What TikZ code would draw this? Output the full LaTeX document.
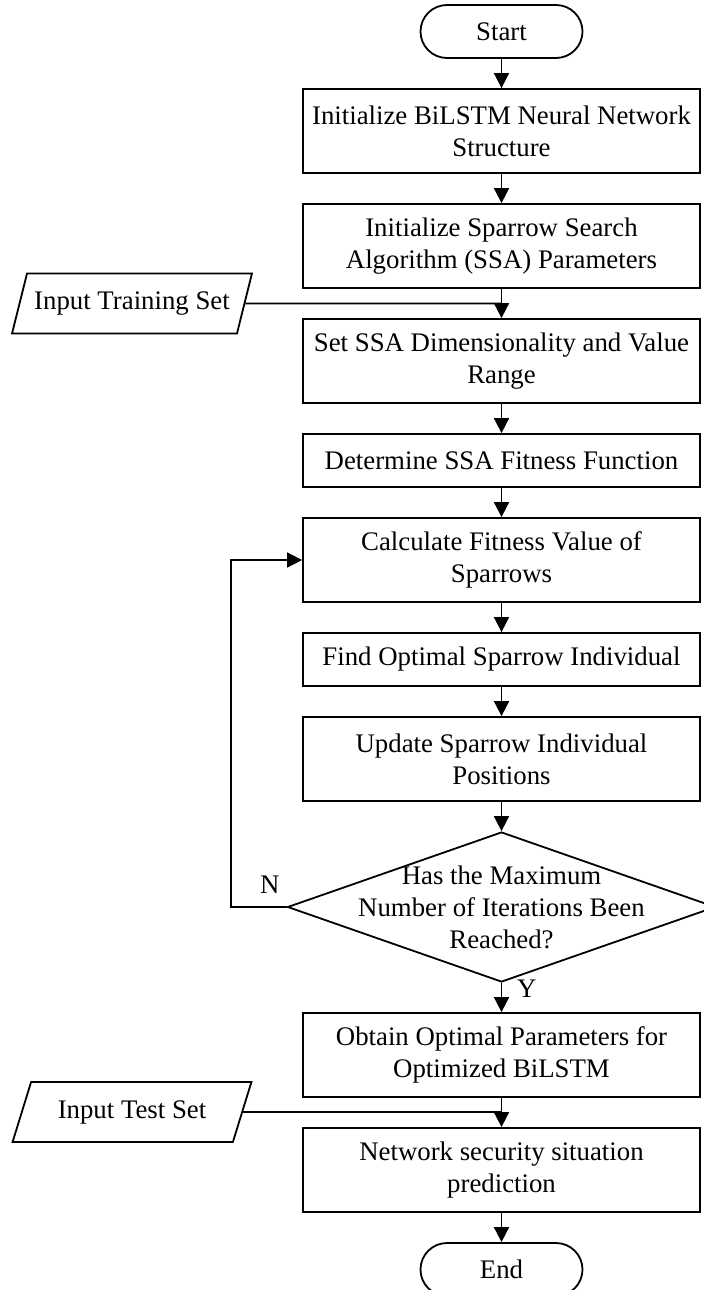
\documentclass[tikz,border=0pt]{standalone}
\usepackage{fontspec}
\setmainfont{Liberation Serif}
\usetikzlibrary{positioning, arrows.meta, shapes.geometric}

\begin{document}
\begin{tikzpicture}[x=0.5pt,y=-0.5pt,>={Triangle[length=7.5pt,width=7.5pt]},node distance=14.6pt,line width=0.9pt,
  every node/.style={font=\fontsize{13.4}{16}\selectfont},
  proc/.style={draw, rectangle, align=center, minimum width=198.5pt, minimum height=42pt, inner sep=2pt},
  proc1/.style={proc, minimum height=26.5pt},
  term/.style={draw, rectangle, rounded corners=13.25pt, minimum width=81pt, minimum height=26.5pt},
  io/.style={draw, trapezium, trapezium left angle=68, trapezium right angle=112, trapezium stretches, minimum width=120pt, minimum height=30pt},
  decide/.style={draw, diamond, minimum width=214pt, minimum height=75pt, inner sep=0pt}]
  \useasboundingbox (0,0) rectangle (703,1290);

  \node[term] (start) at (501.5,31.5) {Start};
  \node[proc, below=of start] (b1) {Initialize BiLSTM Neural Network\\Structure};
  \node[proc, below=of b1] (b2) {Initialize Sparrow Search\\Algorithm (SSA) Parameters};
  \node[proc, below=of b2] (b3) {Set SSA Dimensionality and Value\\Range};
  \node[proc1, below=of b3] (b4) {Determine SSA Fitness Function};
  \node[proc, below=of b4] (b5) {Calculate Fitness Value of\\Sparrows};
  \node[proc1, below=of b5] (b6) {Find Optimal Sparrow Individual};
  \node[proc, below=of b6] (b7) {Update Sparrow Individual\\Positions};
  \node[decide, below=of b7] (dec) {};
  \node[align=center] (dectext) at (dec) {Has the Maximum\\Number of Iterations Been\\Reached?};
  \node[proc, below=of dec] (b8) {Obtain Optimal Parameters for\\Optimized BiLSTM};
  \node[proc, below=of b8] (b9) {Network security situation\\prediction};
  \node[term, below=of b9] (finish) {End};

  \node[io] (train) at (132,303.5) {Input Training Set};
  \node[io] (test) at (132,1112) {Input Test Set};

  \draw[->] (start) edge (b1) (b1) edge (b2) (b2) edge (b3) (b3) edge (b4)
        (b4) edge (b5) (b5) edge (b6) (b6) edge (b7) (b7) edge (dec)
        (b8) edge (b9) (b9) edge (finish);
  \draw[->] (dec) -- node[right, pos=0.2, xshift=4pt] {Y} (b8);
  \draw[->] (dec.west) -- node[above, pos=0.3, yshift=3pt] {N} ++(-56,0) |- (b5.west);
  \draw (train) -- (train -| b3);
  \draw (test) -- (test -| b9);
\end{tikzpicture}
\end{document}
